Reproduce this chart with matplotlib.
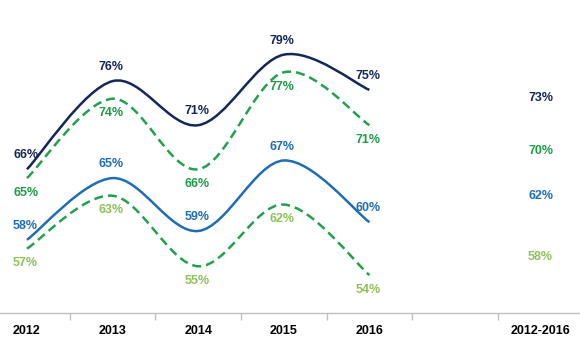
import numpy as np
import matplotlib
matplotlib.use('Agg')
from matplotlib import pyplot as plt
from matplotlib.path import Path
from matplotlib.patches import PathPatch

categories = ['2012', '2013', '2014', '2015', '2016', '', '2012-2016']
years = [0, 1, 2, 3, 4]

navy_vals = [66, 76, 71, 79, 75]
green_vals = [65, 74, 66, 77, 71]
blue_vals = [58, 65, 59, 67, 60]
light_vals = [57, 63, 55, 62, 54]

averages = [73, 70, 62, 58]


def smooth_path(xs, ys):
    ''' Excel-like smoothed line: cubic bezier through each point. '''
    pts = np.column_stack([xs, ys]).astype(float)
    ext = np.vstack([pts[0], pts, pts[-1]])
    verts = [pts[0]]
    codes = [Path.MOVETO]
    for i in range(len(pts) - 1):
        p0, p1, p2, p3 = ext[i], ext[i + 1], ext[i + 2], ext[i + 3]
        verts += [p1 + (p2 - p0) / 6.0, p2 - (p3 - p1) / 6.0, p2]
        codes += [Path.CURVE4] * 3
    return Path(verts, codes)


plt.rcParams['font.family'] = ['Liberation Sans', 'DejaVu Sans']

fig = plt.figure(figsize=(5.8, 3.38), dpi=100)
ax = fig.add_axes([0, 25 / 338, 1, 313 / 338])

series = [
    (navy_vals, '#14275a', '#14275a', '-', 10),
    (green_vals, '#21a04d', '#1f9a4a', (0, (3.6, 2.0)), -10.5),
    (blue_vals, '#1f6db3', '#1f6db3', '-', 10),
    (light_vals, '#21a04d', '#8fc15a', (0, (3.6, 2.0)), -10.5),
]

for vals, lc, tc, ls, off in series:
    ax.add_patch(PathPatch(smooth_path(years, vals), facecolor='none',
                           edgecolor=lc, lw=1.8, linestyle=ls,
                           capstyle='butt'))
    for x, v in zip(years, vals):
        ax.annotate('%d%%' % v, (x, v), xytext=(-1, off),
                    textcoords='offset points', ha='center', va='center',
                    color=tc, fontsize=9, fontweight='bold')

# averages column, label heights
avg_y = [74.1, 68.1, 63.0, 56.1]
for (vals, lc, tc, ls, off), v, y in zip(series, averages, avg_y):
    ax.text(6, y, '%d%%' % v, ha='center', va='center', color=tc,
            fontsize=9, fontweight='bold')

ax.set_xticks(range(len(categories)))
ax.set_xticklabels(categories, fontsize=9, fontweight='bold')
ax.set_xticks(np.arange(-0.5, 6.6, 1), minor=True)
ax.tick_params(axis='x', which='major', length=0, pad=9)
ax.tick_params(axis='x', which='minor', length=5, color='#bfbfbf', width=1)
ax.set_yticks([])
ax.set_xlim(-0.315, 6.46)
ax.set_ylim(49.7, 85.2)
for s in ['left', 'right', 'top']:
    ax.spines[s].set_visible(False)
ax.spines['bottom'].set_color('#bfbfbf')
ax.spines['bottom'].set_linewidth(1)

fig.savefig('out.png', dpi=100)
